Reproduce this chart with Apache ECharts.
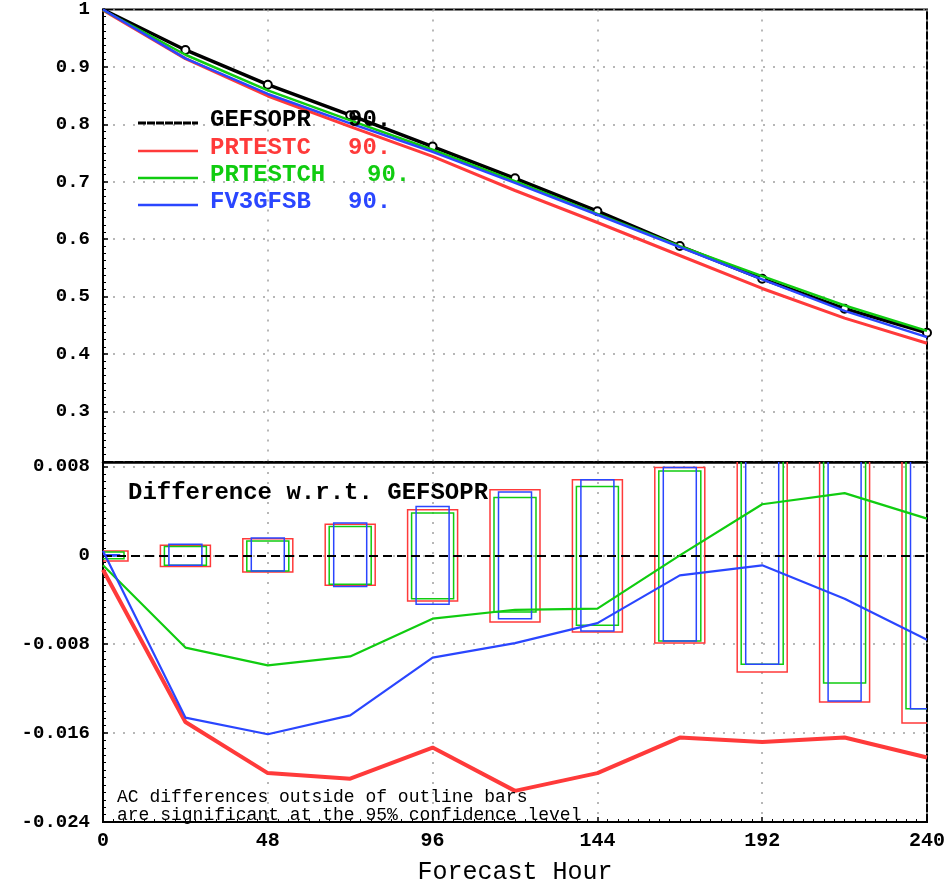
<!DOCTYPE html>
<html><head><meta charset="utf-8">
<script src="https://cdn.jsdelivr.net/npm/echarts@6/dist/echarts.min.js"></script>
<style>html,body{margin:0;padding:0;background:#fff}#c{width:949px;height:886px}</style>
</head><body><div id="c"></div>
<script>
// ---- data ----
const hours = [0, 24, 48, 72, 96, 120, 144, 168, 192, 216, 240];
const xTicks = [0, 48, 96, 144, 192, 240];
const topTicks = [1, 0.9, 0.8, 0.7, 0.6, 0.5, 0.4, 0.3];
const bottomTicks = [0.008, 0, -0.008, -0.016, -0.024];

const acGEFSOPR  = [1.0, 0.9295, 0.869, 0.816, 0.7614, 0.706, 0.6487, 0.588, 0.531, 0.479, 0.437];
const acPRTESTC  = [0.9988, 0.9145, 0.8494, 0.7959, 0.7441, 0.6848, 0.6291, 0.5716, 0.5142, 0.4626, 0.4188];
const acPRTESTCH = [0.9991, 0.9212, 0.8591, 0.8069, 0.7557, 0.7011, 0.6439, 0.588, 0.5356, 0.4846, 0.4403];
const acFV3GFSB  = [1.0, 0.9149, 0.8529, 0.8016, 0.7522, 0.6981, 0.6426, 0.5862, 0.5301, 0.4751, 0.4294];

const diffPRTESTC  = [-0.0013, -0.0150, -0.0196, -0.0201, -0.0173, -0.0212, -0.0196, -0.0164, -0.0168, -0.0164, -0.0182];
const diffPRTESTCH = [-0.0009, -0.0083, -0.0099, -0.0091, -0.0057, -0.0049, -0.0048, 0.0000, 0.0046, 0.0056, 0.0033];
const diffFV3GFSB  = [0.0004, -0.0146, -0.0161, -0.0144, -0.0092, -0.0079, -0.0061, -0.0018, -0.0009, -0.0039, -0.0076];

const boxRedHigh   = [0.0004, 0.0009, 0.0015, 0.0028, 0.0041, 0.0059, 0.0068, 0.0079, 0.0105, 0.0132, 0.0151];
const boxRedLow    = [-0.0005, -0.0010, -0.0015, -0.0027, -0.0041, -0.0060, -0.0069, -0.0079, -0.0105, -0.0132, -0.0151];
const boxGreenHigh = [0.0003, 0.0008, 0.0013, 0.0026, 0.0038, 0.0052, 0.0062, 0.0076, 0.0098, 0.0115, 0.0138];
const boxGreenLow  = [-0.0003, -0.0009, -0.0014, -0.0026, -0.0039, -0.0051, -0.0063, -0.0077, -0.0098, -0.0115, -0.0138];
const boxBlueHigh  = [0.00005, 0.0010, 0.00155, 0.0029, 0.0044, 0.0057, 0.0068, 0.0079, 0.0098, 0.0131, 0.0138];
const boxBlueLow   = [-0.00005, -0.0009, -0.0014, -0.0028, -0.0044, -0.0057, -0.0068, -0.0077, -0.0098, -0.0131, -0.0138];

const legendNames = ['GEFSOPR', 'PRTESTC', 'PRTESTCH', 'FV3GFSB'];
const legendTags = ['90.', '90.', '90.', '90.'];

// ---- styles ----
const RED = '#ff3a3a', GREEN = '#10cc10', BLUE = '#2a46ff', BLACK = '#000';
const FONT = '"Liberation Mono", "DejaVu Sans Mono", monospace';
const gridLine = { show: true, lineStyle: { color: '#a0a0a0', type: [2, 8], width: 1.5 } };

function pairs(arr) { return hours.map((h, i) => [h, arr[i]]); }

function fmtTop(v) {
  const r = Math.round(v * 10) / 10;
  if (Math.abs(v - r) > 1e-6) return '';
  return topTicks.some(t => Math.abs(t - r) < 1e-6) ? (r === 1 ? '1' : r.toFixed(1)) : '';
}
function fmtBottom(v) {
  const k = Math.round(v / 0.008);
  if (Math.abs(v - k * 0.008) > 1e-6) return '';
  return k === 0 ? '0' : (k * 0.008).toFixed(3);
}

function boxSeries(name, lows, highs, color, halfPx, extra) {
  return Object.assign({
    type: 'custom', name: name, xAxisIndex: 1, yAxisIndex: 1, clip: true, z: 3,
    data: hours.map((h, i) => [h, lows[i], highs[i]]),
    encode: { x: 0, y: [1, 2] },
    renderItem: function (params, api) {
      const top = api.coord([api.value(0), api.value(2)]);
      const bot = api.coord([api.value(0), api.value(1)]);
      return {
        type: 'rect',
        shape: { x: top[0] - halfPx, y: top[1], width: halfPx * 2, height: bot[1] - top[1] },
        style: { fill: 'none', stroke: color, lineWidth: 1.5 }
      };
    }
  }, extra || {});
}

const chart = echarts.init(document.getElementById('c'), null, { renderer: 'canvas' });

const legendY = [122, 150, 177, 204];
const legendColors = [BLACK, RED, GREEN, BLUE];
const legendTagX = [348, 348, 367, 348];
const graphics = [];
legendNames.forEach((n, i) => {
  graphics.push({ type: 'line', shape: { x1: 138, y1: legendY[i] + 1, x2: 198, y2: legendY[i] + 1 },
    style: { stroke: legendColors[i], lineWidth: i === 0 ? 3 : 2.5, lineDash: i === 0 ? [8, 1] : null }, z: 10 });
  graphics.push({ type: 'text', x: 210, y: legendY[i] - 2, z: 10,
    style: { text: n, fill: legendColors[i], font: 'bold 24px ' + FONT, verticalAlign: 'middle' } });
  graphics.push({ type: 'text', x: legendTagX[i], y: legendY[i] - 2, z: 10,
    style: { text: legendTags[i], fill: legendColors[i], font: 'bold 24px ' + FONT, verticalAlign: 'middle' } });
});
graphics.push({ type: 'text', x: 128, y: 493, z: 10,
  style: { text: 'Difference w.r.t. GEFSOPR', fill: BLACK, font: 'bold 24px ' + FONT, verticalAlign: 'middle' } });
graphics.push({ type: 'text', x: 117, y: 797, z: 10,
  style: { text: 'AC differences outside of outline bars', fill: BLACK, font: '18px ' + FONT, verticalAlign: 'middle' } });
graphics.push({ type: 'text', x: 117, y: 815, z: 10,
  style: { text: 'are significant at the 95% confidence level', fill: BLACK, font: '18px ' + FONT, verticalAlign: 'middle' } });

const option = {
  animation: false,
  backgroundColor: '#fff',
  grid: [
    { left: 103, right: 22, top: 7, height: 455, show: true, borderColor: BLACK, borderWidth: 2 },
    { left: 103, right: 22, top: 462, height: 365, show: true, borderColor: BLACK, borderWidth: 2 }
  ],
  xAxis: [
    { type: 'value', gridIndex: 0, min: xTicks[0], max: xTicks[xTicks.length - 1], interval: 48,
      axisLabel: { show: false }, axisTick: { show: false },
      axisLine: { onZero: false, lineStyle: { color: BLACK, width: 2.5 } },
      splitLine: gridLine },
    { type: 'value', gridIndex: 1, min: xTicks[0], max: xTicks[xTicks.length - 1], interval: 48,
      axisLabel: { color: BLACK, fontFamily: FONT, fontWeight: 'bold', fontSize: 20, margin: 9 },
      axisLine: { onZero: false, lineStyle: { color: BLACK, width: 2 } },
      axisTick: { inside: true, length: 5, lineStyle: { color: BLACK, width: 1.5 } },
      minorTick: { show: true, splitNumber: 16, length: 3, lineStyle: { color: BLACK, width: 1 } },
      splitLine: gridLine,
      name: 'Forecast Hour', nameLocation: 'middle', nameGap: 38,
      nameTextStyle: { fontFamily: FONT, fontSize: 25, color: BLACK } }
  ],
  yAxis: [
    { type: 'value', gridIndex: 0, min: 0.212, max: 1, minInterval: 0.1, maxInterval: 0.1,
      axisLabel: { formatter: fmtTop, color: BLACK, fontFamily: FONT, fontWeight: 'bold', fontSize: 19, margin: 13 },
      axisLine: { show: true, onZero: false, lineStyle: { color: BLACK, width: 2 } },
      axisTick: { show: true, inside: true, length: 5, lineStyle: { color: BLACK, width: 1.5 } },
      minorTick: { show: true, splitNumber: 8, length: 3, lineStyle: { color: BLACK } },
      splitLine: gridLine },
    { type: 'value', gridIndex: 1, min: -0.024, max: 0.0084, minInterval: 0.008, maxInterval: 0.008,
      axisLabel: { formatter: fmtBottom, color: BLACK, fontFamily: FONT, fontWeight: 'bold', fontSize: 19, margin: 13 },
      axisLine: { show: true, onZero: false, lineStyle: { color: BLACK, width: 2 } },
      axisTick: { show: true, inside: true, length: 5, lineStyle: { color: BLACK, width: 1.5 } },
      minorTick: { show: true, splitNumber: 12, length: 3, lineStyle: { color: BLACK } },
      splitLine: gridLine }
  ],
  graphic: graphics,
  series: [
    { name: 'GEFSOPR', type: 'line', xAxisIndex: 0, yAxisIndex: 0, z: 4,
      data: pairs(acGEFSOPR).map((p, i) => i === 0 ? { value: p, symbol: 'none' } : p),
      symbol: 'circle', symbolSize: 8, showSymbol: true,
      itemStyle: { color: '#fff', borderColor: BLACK, borderWidth: 2 },
      lineStyle: { color: BLACK, width: 3.5 } },
    { name: 'PRTESTC', type: 'line', xAxisIndex: 0, yAxisIndex: 0, z: 5, data: pairs(acPRTESTC),
      symbol: 'none', lineStyle: { color: RED, width: 3 } },
    { name: 'PRTESTCH', type: 'line', xAxisIndex: 0, yAxisIndex: 0, z: 5, data: pairs(acPRTESTCH),
      symbol: 'none', lineStyle: { color: GREEN, width: 2.5 } },
    { name: 'FV3GFSB', type: 'line', xAxisIndex: 0, yAxisIndex: 0, z: 6, data: pairs(acFV3GFSB),
      symbol: 'none', lineStyle: { color: BLUE, width: 2.5 } },

    boxSeries('PRTESTC conf', boxRedLow, boxRedHigh, RED, 25),
    boxSeries('PRTESTCH conf', boxGreenLow, boxGreenHigh, GREEN, 21),
    boxSeries('FV3GFSB conf', boxBlueLow, boxBlueHigh, BLUE, 16.5, {
      markLine: { silent: true, symbol: 'none', label: { show: false }, animation: false,
        lineStyle: { color: BLACK, type: [9, 5], width: 2 }, data: [{ yAxis: 0 }] } }),

    { name: 'PRTESTC diff', type: 'line', xAxisIndex: 1, yAxisIndex: 1, z: 6, data: pairs(diffPRTESTC),
      symbol: 'none', lineStyle: { color: RED, width: 4 } },
    { name: 'PRTESTCH diff', type: 'line', xAxisIndex: 1, yAxisIndex: 1, z: 6, data: pairs(diffPRTESTCH),
      symbol: 'none', lineStyle: { color: GREEN, width: 2.2 } },
    { name: 'FV3GFSB diff', type: 'line', xAxisIndex: 1, yAxisIndex: 1, z: 6, data: pairs(diffFV3GFSB),
      symbol: 'none', lineStyle: { color: BLUE, width: 2.2 } }
  ]
};
chart.setOption(option);
</script>
</body></html>
